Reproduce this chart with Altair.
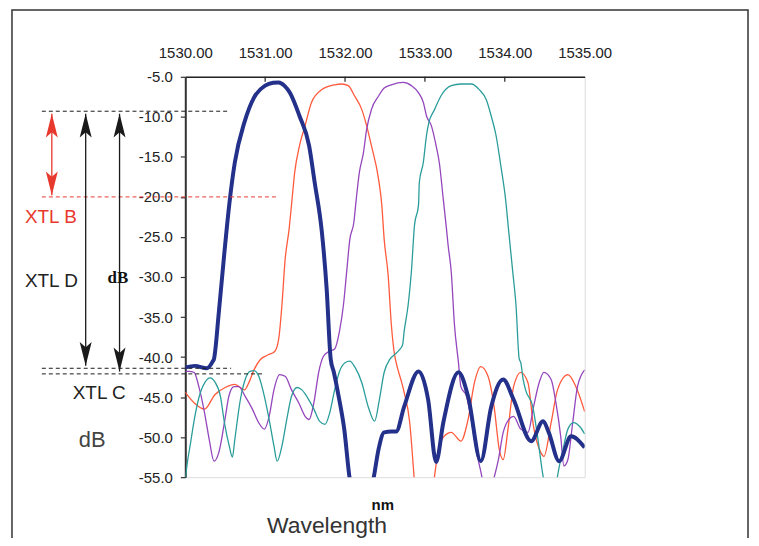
import altair as alt
import pandas as pd

# ---------------- data ----------------
x_ticks = [1530, 1531, 1532, 1533, 1534, 1535]
y_ticks = [-5, -10, -15, -20, -25, -30, -35, -40, -45, -50, -55]

ch1_wl = [1530.00, 1530.12, 1530.27, 1530.34, 1530.36, 1530.42, 1530.49, 1530.55, 1530.62, 1530.74,
          1530.86, 1531.00, 1531.10, 1531.17, 1531.24, 1531.31, 1531.43, 1531.55, 1531.62, 1531.71,
          1531.77, 1531.82, 1531.86, 1531.92, 1531.99, 1532.06, 1532.15, 1532.30, 1532.36, 1532.42,
          1532.49, 1532.58, 1532.64, 1532.74, 1532.92, 1533.04, 1533.14, 1533.23, 1533.42, 1533.54,
          1533.70, 1533.83, 1533.98, 1534.11, 1534.33, 1534.48, 1534.55, 1534.68, 1534.83, 1535.00]
ch1_db = [-41.3, -41.1, -41.4, -40.6, -40.2, -34.4, -26.9, -21.0, -15.7, -10.7,
          -7.6, -6.1, -5.75, -5.7, -6.1, -7.0, -9.9, -13.6, -18.2, -24.4,
          -31.5, -40.2, -41.9, -44.9, -49.0, -55.3, -58.0, -58.0, -55.0, -51.5,
          -49.4, -49.3, -49.3, -46.2, -41.8, -45.3, -53.1, -48.2, -41.9, -44.9,
          -53.0, -46.2, -42.8, -45.3, -50.5, -48.0, -49.4, -53.0, -49.9, -51.3]

ch2_wl = [1530.00, 1530.11, 1530.24, 1530.37, 1530.50, 1530.62, 1530.74, 1530.80, 1530.86, 1530.94,
          1531.02, 1531.12, 1531.17, 1531.21, 1531.25, 1531.30, 1531.33, 1531.37, 1531.43, 1531.50,
          1531.58, 1531.71, 1531.87, 1531.96, 1532.04, 1532.12, 1532.21, 1532.27, 1532.33, 1532.42,
          1532.46, 1532.49, 1532.54, 1532.58, 1532.62, 1532.64, 1532.71, 1532.74, 1532.81, 1532.86,
          1532.88, 1533.09, 1533.12, 1533.17, 1533.24, 1533.33, 1533.45, 1533.54, 1533.62, 1533.70,
          1533.79, 1533.87, 1533.93, 1533.98, 1534.04, 1534.11, 1534.20, 1534.29, 1534.36, 1534.45,
          1534.49, 1534.58, 1534.66, 1534.79, 1534.89, 1535.00]
ch2_db = [-44.4, -45.7, -46.5, -44.7, -43.8, -43.4, -44.1, -43.1, -41.6, -40.3,
          -39.8, -39.3, -37.7, -33.5, -27.8, -24.0, -21.0, -16.9, -13.6, -11.1,
          -8.2, -6.6, -6.0, -5.9, -6.1, -7.4, -9.1, -11.1, -13.6, -17.8,
          -21.0, -25.3, -29.8, -36.0, -39.7, -40.7, -43.2, -44.4, -48.2, -54.4,
          -57.0, -57.0, -54.9, -51.5, -49.9, -49.4, -50.5, -47.8, -43.2, -41.2,
          -42.4, -46.5, -51.5, -52.8, -49.0, -43.7, -41.9, -43.2, -48.7, -51.9,
          -52.4, -48.2, -44.1, -42.2, -43.7, -46.8]

ch3_wl = [1530.00, 1530.05, 1530.11, 1530.17, 1530.24, 1530.30, 1530.36, 1530.42, 1530.49, 1530.55,
          1530.61, 1530.67, 1530.75, 1530.84, 1530.92, 1530.99, 1531.05, 1531.11, 1531.18, 1531.25,
          1531.33, 1531.42, 1531.50, 1531.55, 1531.61, 1531.67, 1531.73, 1531.80, 1531.87, 1531.93,
          1531.98, 1532.02, 1532.06, 1532.11, 1532.14, 1532.18, 1532.23, 1532.27, 1532.33, 1532.42,
          1532.49, 1532.58, 1532.73, 1532.83, 1532.92, 1532.98, 1533.02, 1533.08, 1533.14, 1533.18,
          1533.23, 1533.27, 1533.29, 1533.33, 1533.37, 1533.42, 1533.45, 1533.52, 1533.58, 1533.64,
          1533.70, 1533.74, 1533.84, 1533.87, 1533.92, 1533.98, 1534.05, 1534.11, 1534.20, 1534.29,
          1534.36, 1534.43, 1534.49, 1534.58, 1534.64, 1534.70, 1534.74, 1534.79, 1534.85, 1534.91,
          1535.00]
ch3_db = [-41.8, -41.8, -41.9, -43.7, -46.9, -50.3, -53.0, -51.9, -48.2, -44.7,
          -43.7, -43.7, -44.9, -46.5, -48.2, -49.0, -47.4, -44.1, -42.2, -42.4,
          -44.1, -45.7, -47.4, -47.8, -45.7, -41.9, -39.9, -39.3, -39.0, -36.8,
          -33.5, -29.4, -25.3, -23.2, -20.3, -16.9, -14.5, -11.6, -9.1, -7.4,
          -6.4, -6.0, -5.7, -6.1, -7.0, -8.2, -9.9, -11.1, -13.6, -15.7,
          -20.3, -24.0, -26.0, -29.4, -36.0, -40.7, -43.7, -44.9, -47.8, -51.5,
          -54.3, -56.0, -56.0, -54.9, -52.8, -49.4, -47.8, -47.4, -49.0, -49.4,
          -46.2, -43.2, -41.9, -42.8, -45.7, -49.9, -53.6, -52.8, -48.2, -43.7,
          -41.6]

ch4_wl = [1530.00, 1530.02, 1530.06, 1530.12, 1530.19, 1530.25, 1530.31, 1530.37, 1530.44, 1530.49,
          1530.55, 1530.59, 1530.62, 1530.69, 1530.75, 1530.81, 1530.86, 1530.92, 1530.99, 1531.05,
          1531.11, 1531.15, 1531.21, 1531.27, 1531.33, 1531.40, 1531.46, 1531.52, 1531.61, 1531.68,
          1531.75, 1531.81, 1531.87, 1531.93, 1532.00, 1532.06, 1532.12, 1532.21, 1532.29, 1532.37,
          1532.43, 1532.49, 1532.56, 1532.62, 1532.68, 1532.72, 1532.74, 1532.79, 1532.83, 1532.87,
          1532.92, 1532.93, 1532.98, 1533.02, 1533.05, 1533.12, 1533.20, 1533.33, 1533.45, 1533.58,
          1533.68, 1533.77, 1533.83, 1533.89, 1533.95, 1534.01, 1534.05, 1534.10, 1534.14, 1534.18,
          1534.20, 1534.23, 1534.26, 1534.35, 1534.41, 1534.48, 1534.54, 1534.63, 1534.66, 1534.73,
          1534.79, 1534.86, 1534.94, 1535.00]
ch4_db = [-55.5, -53.6, -51.1, -47.4, -44.4, -43.1, -42.6, -43.1, -44.9, -48.2,
          -51.1, -52.5, -50.3, -45.3, -42.8, -41.8, -41.7, -42.4, -44.9, -47.8,
          -51.1, -53.0, -51.1, -47.8, -44.9, -43.8, -44.1, -44.9, -46.5, -48.0,
          -48.4, -46.9, -44.1, -41.8, -40.7, -40.5, -41.2, -43.2, -46.2, -48.0,
          -45.3, -41.9, -40.3, -39.7, -39.1, -38.5, -36.8, -33.5, -29.4, -23.5,
          -21.0, -18.2, -15.7, -12.3, -10.7, -9.1, -7.4, -6.1, -5.9, -5.9,
          -6.6, -7.9, -9.9, -12.3, -16.1, -20.3, -24.4, -29.4, -33.5, -40.2,
          -40.7, -42.8, -44.1, -46.2, -49.9, -54.9, -57.0, -57.0, -54.9, -51.5,
          -49.0, -48.2, -48.7, -49.6]

# annotation levels (dB)
level_top = -9.3
level_xtl_b = -20.0
level_c1 = -41.4
level_c2 = -42.1

# ---------------- encodings ----------------
xscale = alt.Scale(domain=[1530, 1535], nice=False, zero=False)
yscale = alt.Scale(domain=[-55, -5], nice=False, zero=False)
FONT = "Liberation Sans"

X = alt.X("wl:Q", scale=xscale,
          axis=alt.Axis(orient="top", values=x_ticks, format=".2f", title=None, ticks=False,
                        labelPadding=16, labelFontSize=15, labelFont=FONT, labelColor="#222",
                        domainColor="#222", domainWidth=1.5, grid=False, labelFlush=False,
                        labelOverlap=False, labelBound=False))
Y = alt.Y("db:Q", scale=yscale,
          axis=alt.Axis(values=y_ticks, title=None, tickSize=5, tickColor="#333",
                        labelExpr="replace(format(datum.value, '.1f'), '\u2212', '-')",
                        tickWidth=1.2, labelPadding=8, labelFontSize=15, labelFont=FONT,
                        labelColor="#222", domainColor="#333", domainWidth=2, grid=False,
                        labelFlush=False, labelOverlap=False, labelBound=False))

one = pd.DataFrame({"k": [0]})


def series(wl, db, color, width):
    return alt.Chart(pd.DataFrame({"wl": wl, "db": db})).mark_line(
        color=color, strokeWidth=width, clip=True, interpolate="monotone",
        strokeJoin="round").encode(x=X, y=Y)


def hline(level, x0, x1, color):
    return alt.Chart(pd.DataFrame({"db": [level]})).mark_rule(
        color=color, strokeDash=[4, 3], strokeWidth=1, clip=False).encode(
        x=alt.value(x0), x2=alt.value(x1), y=Y)


def shaft(px, top, bottom, color):
    return alt.Chart(pd.DataFrame({"db": [top], "db2": [bottom]})).mark_rule(
        color=color, strokeWidth=1.3, clip=False).encode(
        x=alt.value(px), y=Y, y2=alt.Y2("db2:Q"))


UP = "M0,-1L0.5,1L0,0.55L-0.5,1Z"
DOWN = "M0,1L0.5,-1L0,-0.55L-0.5,-1Z"


def head(px, level, color, up):
    return alt.Chart(pd.DataFrame({"db": [level]})).mark_point(
        shape=UP if up else DOWN, filled=True, size=576, color=color, opacity=1,
        strokeWidth=0, clip=False, yOffset=12 if up else -12).encode(x=alt.value(px), y=Y)


def label(txt, px, py, size, color, weight="normal", font=FONT):
    return alt.Chart(one).mark_text(
        text=txt, align="left", baseline="alphabetic", fontSize=size, font=font,
        fontWeight=weight, color=color, clip=False).encode(x=alt.value(px), y=alt.value(py))


RED = "#E8392E"
BLK = "#1a1a1a"

frame = alt.Chart(one).mark_rect(
    fillOpacity=0, stroke="#333", strokeWidth=1.5, clip=False).encode(
    x=alt.value(-174), x2=alt.value(565), y=alt.value(-67), y2=alt.value(500))

top_ticks = alt.Chart(pd.DataFrame({"wl": x_ticks[1:-1]})).mark_rule(
    color="#222", strokeWidth=1.2).encode(x=X, y=alt.value(0), y2=alt.value(5))

layers = [
    frame,
    top_ticks,
    series(ch2_wl, ch2_db, "#FF5A3C", 1.3),
    series(ch3_wl, ch3_db, "#9446BC", 1.3),
    series(ch4_wl, ch4_db, "#2A9D9B", 1.3),
    series(ch1_wl, ch1_db, "#23318A", 4),
    hline(level_top, -144, 44, BLK),
    hline(level_xtl_b, -144, 91, RED),
    hline(level_c1, -144, 46, BLK),
    hline(level_c2, -144, 77, BLK),
    shaft(-134, -9.6, -19.8, RED),
    shaft(-100, -9.6, -41.1, BLK),
    shaft(-66, -9.6, -41.8, BLK),
    head(-134, -9.6, RED, True),
    head(-134, -19.8, RED, False),
    head(-100, -9.6, BLK, True),
    head(-100, -41.1, BLK, False),
    head(-66, -9.6, BLK, True),
    head(-66, -41.8, BLK, False),
    label("XTL B", -161, 147, 19, RED),
    label("XTL D", -161, 211, 19, "#222"),
    label("dB", -78, 207, 17, "#111", "bold", "Liberation Serif"),
    label("XTL C", -113, 324, 19, "#222"),
    label("dB", -107, 372, 22, "#444"),
    label("nm", 187, 435, 15, "#111", "bold"),
    label("Wavelength", 82, 458, 23, "#333"),
]

chart = alt.layer(*layers).properties(
    width=401, height=402,
    padding={"left": 178, "top": 68, "right": 167, "bottom": 60},
    autosize=alt.AutoSizeParams(type="none"),
).configure_view(stroke="#999", strokeWidth=1.5).configure(background="white")

chart.save("out.html", embed_options={"renderer": "svg", "actions": False})
